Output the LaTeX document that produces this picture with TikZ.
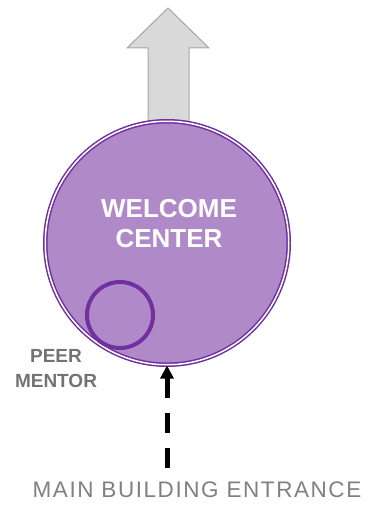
\documentclass[tikz,border=0pt]{standalone}
\usepackage{fontspec}
\setmainfont{Liberation Sans}
\newfontfamily\widefont[LetterSpace=7]{Liberation Sans}
\usetikzlibrary{arrows.meta}
\definecolor{wcfill}{RGB}{176,138,200}
\definecolor{wcline}{RGB}{112,48,160}
\definecolor{exitfill}{RGB}{217,217,217}
\definecolor{exitline}{RGB}{166,166,166}
\definecolor{lblgray}{RGB}{118,114,114}
\definecolor{entgray}{RGB}{128,128,128}

\begin{document}
\begin{tikzpicture}[
  x=1pt, y=-1pt,
  wcirc/.style   = {circle, draw=wcline, double=white, double distance=1.5pt,
                    line width=1.5pt, fill=wcfill, minimum size=243.5pt, inner sep=0pt},
  mcirc/.style   = {circle, draw=wcline, line width=4pt, minimum size=66pt,
                    inner sep=0pt},
  wctext/.style  = {text=white, align=center,
                    font=\fontsize{26}{30}\selectfont\bfseries},
  pmtext/.style  = {text=lblgray, align=center,
                    font=\fontsize{19}{25}\selectfont\bfseries},
  enttext/.style = {text=entgray, font=\widefont\fontsize{22.5}{26}\selectfont},
  exitarr/.style = {fill=exitfill, draw=exitline, line width=1pt, line join=miter},
  entarr/.style  = {-{Triangle[length=13pt,width=13pt]}, line width=5pt,
                    dash pattern=on 20pt off 15pt},
]
\useasboundingbox (0,0) rectangle (381,508);

% ---------- exit arrow (behind the circle) ----------
\draw[exitarr] (148,200) -- (148,48) -- (127,48) -- (168,8) -- (209,48)
               -- (189,48) -- (189,200) -- cycle;

% ---------- welcome center ----------
\node[wcirc]  (wc)      at (167,243)   {};
\node[wctext] (wclabel) at (169,223.5) {WELCOME\\CENTER};

% ---------- peer mentor ----------
\node[mcirc]  (pm)      at (120,315)   {};
\node[pmtext] (pmlabel) at (56,368.5)  {PEER\\MENTOR};

% ---------- entrance ----------
\coordinate (entry) at (167,468);
\draw[entarr] (entry) -- (wc.south);
\node[enttext] (entlabel) at (197,489.5) {MAIN BUILDING ENTRANCE};

\end{tikzpicture}
\end{document}
